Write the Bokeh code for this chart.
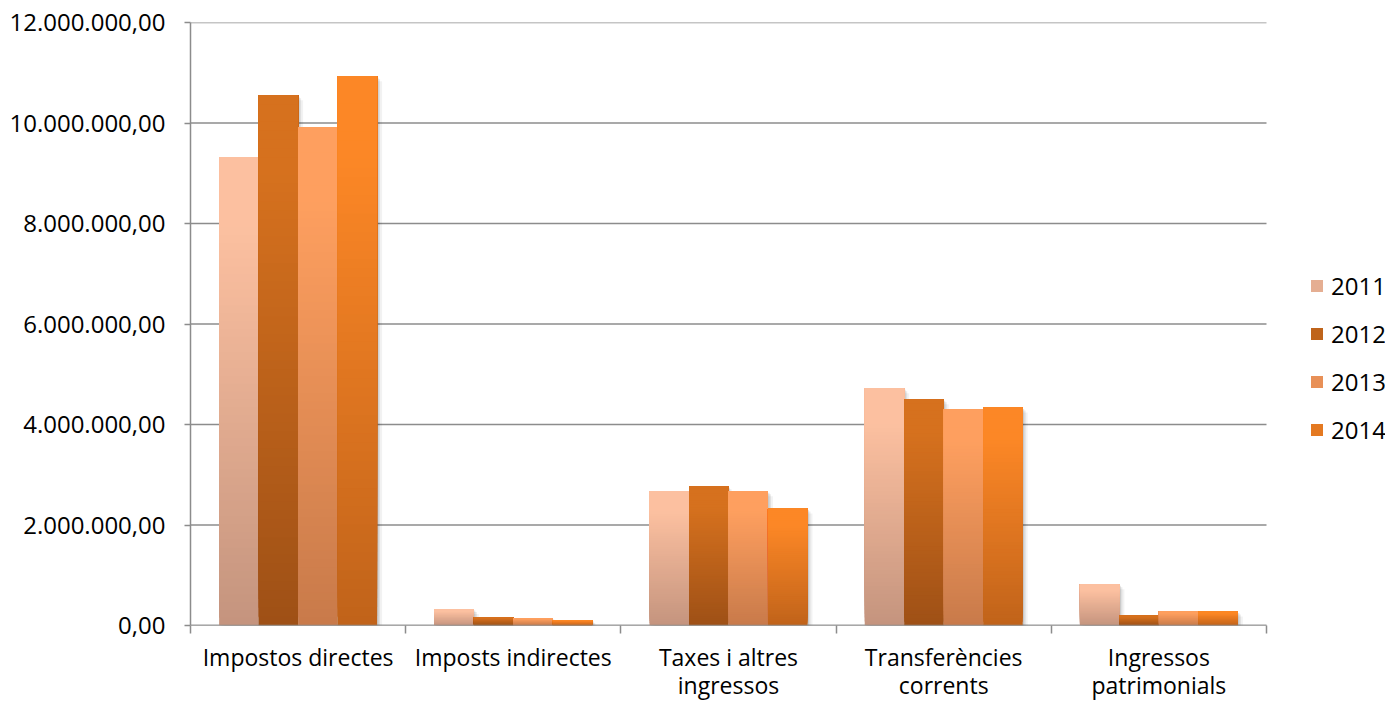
from bokeh.plotting import figure
from bokeh.models import ColumnDataSource, FixedTicker, Legend, LegendItem
from bokeh.embed import file_html
from bokeh.resources import INLINE

# ---------------- data ----------------
categories = ["Impostos directes", "Imposts indirectes", "Taxes i altres\ningressos",
              "Transferències\ncorrents", "Ingressos\npatrimonials"]
years = ["2011", "2012", "2013", "2014"]
v2011 = [9320000, 330000, 2670000, 4720000, 820000]
v2012 = [10550000, 170000, 2770000, 4500000, 200000]
v2013 = [9910000, 150000, 2670000, 4300000, 280000]
v2014 = [10930000, 110000, 2330000, 4340000, 280000]
series = [v2011, v2012, v2013, v2014]
y_ticks = [0, 2000000, 4000000, 6000000, 8000000, 10000000, 12000000]
y_tick_labels = ["0,00", "2.000.000,00", "4.000.000,00", "6.000.000,00",
                 "8.000.000,00", "10.000.000,00", "12.000.000,00"]

# ---------------- styles ----------------
top_cols = [(252, 192, 160), (214, 113, 30), (254, 159, 95), (252, 135, 38)]
bot_cols = [(196, 148, 126), (158, 80, 22), (200, 122, 74), (192, 99, 26)]
FONT = "Open Sans"
GRID = "#8C8C8C"
N_SLICES = 60
GROUP_W = 0.734
BAR_W = GROUP_W / 4
PX_PER_CAT = 215.2          # pixel width of one category slot
FRAME_LEFT = 190
FIG_W = 1385
Y_MAX = 12000000
PX_PER_Y = 604 / Y_MAX      # frame height / y span


def lerp(c1, c2, t):
    return "#%02x%02x%02x" % tuple(int(round(a + (b - a) * t)) for a, b in zip(c1, c2))


n = len(categories)
x_end = (FIG_W - FRAME_LEFT) / PX_PER_CAT   # frame extends over legend area
p = figure(width=FIG_W, height=704, output_backend="svg", toolbar_location=None,
           x_range=(0, x_end), y_range=(0, Y_MAX),
           min_border_left=FRAME_LEFT, min_border_right=0, min_border_top=22,
           min_border_bottom=78)
p.outline_line_color = None
p.background_fill_color = "white"
p.border_fill_color = "white"
p.xgrid.grid_line_color = None
p.ygrid.grid_line_color = None

# y axis
p.yaxis.ticker = FixedTicker(ticks=y_ticks)
p.yaxis.major_label_overrides = {t: s for t, s in zip(y_ticks, y_tick_labels)}
p.yaxis.axis_line_color = GRID
p.yaxis.axis_line_width = 1.5
p.yaxis.major_tick_line_color = GRID
p.yaxis.major_tick_line_width = 1.5
p.yaxis.major_tick_out = 6
p.yaxis.major_tick_in = 0
p.yaxis.minor_tick_line_color = None
p.yaxis.major_label_standoff = 19
p.yaxis.major_label_text_font = FONT
p.yaxis.major_label_text_font_size = "24px"
p.yaxis.major_label_text_color = "#000000"

# x axis: labels at category centres, tick marks (minor ticks) at boundaries
centers = [i + 0.5 for i in range(n)]
p.xaxis.ticker = FixedTicker(ticks=centers, minor_ticks=list(range(n + 1)))
p.xaxis.major_label_overrides = {c: s for c, s in zip(centers, categories)}
p.xaxis.major_label_text_font = FONT
p.xaxis.major_label_text_font_size = "23px"
p.xaxis.major_label_text_color = "#000000"
p.xaxis.major_label_text_line_height = 0.9
p.xaxis.major_label_standoff = 7
p.xaxis.axis_line_color = None
p.xaxis.major_tick_line_color = None
p.xaxis.major_tick_out = 0
p.xaxis.major_tick_in = 0
p.xaxis.minor_tick_line_color = GRID
p.xaxis.minor_tick_line_width = 1.5
p.xaxis.minor_tick_out = 8
p.xaxis.minor_tick_in = 0

# horizontal gridlines over the category span only
p.segment(x0=[0] * len(y_ticks), x1=[n] * len(y_ticks), y0=y_ticks, y1=y_ticks,
          line_color=GRID, line_width=1.5)

# soft drop shadow behind each bar
for off, alpha in [(5, 0.05), (3, 0.08), (1.5, 0.10)]:
    dx = off / PX_PER_CAT
    dy = off / PX_PER_Y
    SL, SR, ST, SB = [], [], [], []
    for j, vals in enumerate(series):
        for i, v in enumerate(vals):
            center = i + 0.5 + (j - 1.5) * BAR_W
            SL.append(center - BAR_W / 2 + dx)
            SR.append(center + BAR_W / 2 + dx)
            ST.append(v - dy)
            SB.append(-dy)
    p.quad(left=SL, right=SR, top=ST, bottom=SB, fill_color="black",
           fill_alpha=alpha, line_color=None)

# bars, drawn as overlapping gradient slices (bottom to top)
legend_items = []
for j, (vals, yr) in enumerate(zip(series, years)):
    L, R, B, T, C = [], [], [], [], []
    for i, v in enumerate(vals):
        center = i + 0.5 + (j - 1.5) * BAR_W
        for k in range(N_SLICES):
            b = v * k / N_SLICES
            f_from_top = 1 - (k + 0.5) / N_SLICES
            g = max(0.0, (f_from_top - 0.15) / 0.85)
            L.append(center - BAR_W / 2)
            R.append(center + BAR_W / 2)
            B.append(b)
            T.append(v)
            C.append(lerp(top_cols[j], bot_cols[j], g))
    src = ColumnDataSource(dict(left=L, right=R, bottom=B, top=T, color=C))
    r = p.quad(left="left", right="right", bottom="bottom", top="top", source=src,
               fill_color="color", line_color=None)
    legend_items.append(LegendItem(label=yr, renderers=[r], index=N_SLICES // 2))

# baseline (x axis line) above the bars
p.segment(x0=[0], x1=[n], y0=[0], y1=[0], line_color=GRID, line_width=1.5)

legend = Legend(items=legend_items, location=(1119, 179), orientation="vertical")
legend.border_line_color = None
legend.background_fill_alpha = 0
legend.padding = 0
legend.margin = 0
legend.spacing = 15
legend.glyph_width = 15
legend.glyph_height = 15
legend.label_standoff = 7
legend.label_text_font = FONT
legend.label_text_font_size = "24px"
legend.label_text_color = "#000000"
p.add_layout(legend, "center")

open("out.html", "w").write(file_html(p, INLINE))
